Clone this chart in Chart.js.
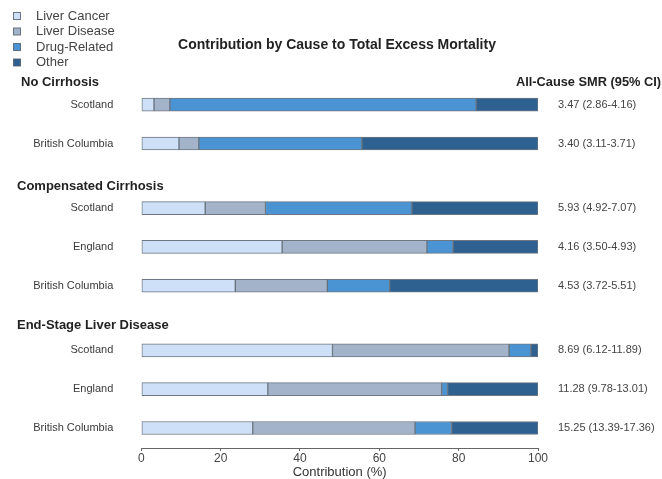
<!DOCTYPE html>
<html>
<head>
<meta charset="utf-8">
<script src="https://cdn.jsdelivr.net/npm/chart.js@4.4.1/dist/chart.umd.min.js"></script>
<style>
  html, body { margin: 0; padding: 0; background: #ffffff; }
  #wrap { width: 662px; height: 479px; }
</style>
</head>
<body>
<div id="wrap"><canvas id="c" width="662" height="479"></canvas></div>
<script>
// ---- data ----
const categories = ['Scotland', 'British Columbia', 'Scotland', 'England', 'British Columbia', 'Scotland', 'England', 'British Columbia'];
const groupNames = ['No Cirrhosis', 'Compensated Cirrhosis', 'End-Stage Liver Disease'];
const groupOf = [0, 0, 1, 1, 1, 2, 2, 2];
const seriesNames = ['Liver Cancer', 'Liver Disease', 'Drug-Related', 'Other'];
const liverCancer  = [3.2, 9.5, 16.1, 35.5, 23.7, 48.2, 31.9, 28.1];
const liverDisease = [4.0, 5.0, 15.2, 36.5, 23.2, 44.5, 43.8, 40.9];
const drugRelated  = [77.2, 41.1, 36.9, 6.6, 15.7, 5.5, 1.5, 9.2];
const other        = [15.6, 44.4, 31.8, 21.4, 37.4, 1.8, 22.8, 21.8];
const smrLabels = ['3.47 (2.86-4.16)', '3.40 (3.11-3.71)', '5.93 (4.92-7.07)', '4.16 (3.50-4.93)', '4.53 (3.72-5.51)', '8.69 (6.12-11.89)', '11.28 (9.78-13.01)', '15.25 (13.39-17.36)'];
const smrHeader = 'All-Cause SMR (95% CI)';
const chartTitle = 'Contribution by Cause to Total Excess Mortality';
const xTicks = [0, 20, 40, 60, 80, 100];

// ---- styling ----
const colors = ['#cde0f7', '#a3b4ca', '#4b94d3', '#2e6090'];
const FONT = '"Liberation Sans", Arial, Helvetica, sans-serif';

// row positions along the category axis (groups separated by an extra gap)
const rowPos = [];
(function () {
  let p = 0;
  for (let i = 0; i < categories.length; i++) {
    if (i > 0) p += (groupOf[i] !== groupOf[i - 1]) ? 1 + 2 / 3 : 1;
    rowPos.push(p);
  }
})();

const seriesValues = [liverCancer, liverDisease, drugRelated, other];
const datasets = seriesNames.map((name, s) => ({
  label: name,
  data: seriesValues[s].map((v, i) => ({ x: v, y: rowPos[i] })),
  backgroundColor: colors[s],
  borderColor: 'rgba(85,95,108,0.85)',
  borderWidth: 1,
  borderSkipped: false,
  barThickness: 13
}));

const extras = {
  id: 'extras',
  afterDraw(chart) {
    const ctx = chart.ctx;
    const y = chart.scales.y;
    ctx.save();
    // title
    ctx.textBaseline = 'middle';
    ctx.textAlign = 'center';
    ctx.font = 'bold 14px ' + FONT;
    ctx.fillStyle = '#222';
    ctx.fillText(chartTitle, 337, 45);
    // legend
    ctx.textAlign = 'left';
    ctx.font = '13px ' + FONT;
    chart.data.datasets.forEach((ds, i) => {
      const cy = 16 + i * 15.5;
      ctx.fillStyle = ds.backgroundColor;
      ctx.fillRect(13.5, cy - 3.5, 7, 7);
      ctx.strokeStyle = 'rgba(85,95,108,0.85)';
      ctx.lineWidth = 1;
      ctx.strokeRect(13.5, cy - 3.5, 7, 7);
      ctx.fillStyle = '#444';
      ctx.fillText(ds.label, 36, cy);
    });
    // group headers
    ctx.font = 'bold 13px ' + FONT;
    ctx.fillStyle = '#222';
    groupNames.forEach((g, gi) => {
      const first = groupOf.indexOf(gi);
      const py = y.getPixelForValue(rowPos[first]) - (gi === 2 ? 25 : 22);
      ctx.fillText(g, gi === 0 ? 21 : 17, py);
    });
    // SMR header
    ctx.textAlign = 'right';
    ctx.font = 'bold 12.8px ' + FONT;
    ctx.fillText(smrHeader, 661, y.getPixelForValue(rowPos[0]) - 22);
    // SMR values
    ctx.textAlign = 'left';
    ctx.font = '11px ' + FONT;
    ctx.fillStyle = '#444';
    smrLabels.forEach((t, i) => {
      ctx.fillText(t, 558, y.getPixelForValue(rowPos[i]));
    });
    ctx.restore();
  }
};

new Chart(document.getElementById('c'), {
  type: 'bar',
  data: { datasets },
  plugins: [extras],
  options: {
    indexAxis: 'y',
    responsive: false,
    animation: false,
    devicePixelRatio: 1,
    layout: { padding: { top: 81.4, right: 124, bottom: 0, left: 0 } },
    plugins: {
      legend: { display: false },
      tooltip: { enabled: false },
      title: { display: false }
    },
    scales: {
      x: {
        type: 'linear',
        stacked: true,
        min: 0,
        max: 100,
        afterBuildTicks: (s) => { s.ticks = xTicks.map(v => ({ value: v })); },
        afterFit: (s) => { s.height = 31; s.paddingLeft = 0; s.paddingRight = 0; },
        grid: { display: true, drawOnChartArea: false, drawTicks: true, tickLength: 3, color: '#666' },
        border: { display: true, color: '#666', width: 1 },
        ticks: { color: '#444', font: { family: FONT, size: 12 }, padding: 0, maxRotation: 0 },
        title: { display: true, text: 'Contribution (%)', color: '#333', font: { family: FONT, size: 13, lineHeight: 1 }, padding: { top: 0, bottom: 0 } }
      },
      y: {
        type: 'linear',
        stacked: true,
        reverse: true,
        offset: false,
        min: -0.6,
        max: 8.85,
        afterBuildTicks: (s) => { s.ticks = rowPos.map(v => ({ value: v })); },
        afterFit: (s) => { s.width = 141.3; s.paddingTop = 0; s.paddingBottom = 0; },
        grid: { display: false, drawTicks: false, offset: false },
        border: { display: false },
        ticks: {
          color: '#3a3a3a',
          font: { family: FONT, size: 11 },
          padding: 28,
          autoSkip: false,
          callback: (v, i) => categories[i]
        }
      }
    }
  }
});
</script>
</body>
</html>
